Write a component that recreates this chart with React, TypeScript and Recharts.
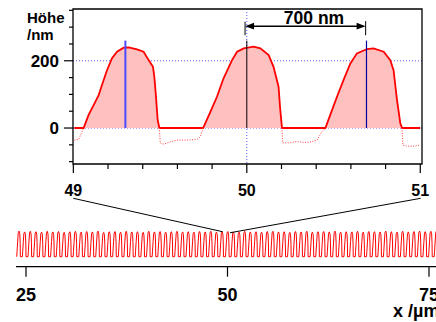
import React from 'react';
import {
  ComposedChart,
  Area,
  Line,
  XAxis,
  YAxis,
  CartesianGrid,
  ReferenceLine,
  ReferenceArea,
} from 'recharts';

// Höhenprofil im Ausschnitt 49–51 µm: [x in µm, Höhe in nm]
const profile: [number, number][] = [
  [49.005, 0], [49.059, 0], [49.088, 39], [49.117, 68], [49.146, 98], [49.165, 128],
  [49.194, 172], [49.223, 208], [49.252, 227], [49.29, 239], [49.319, 240], [49.367, 234],
  [49.405, 227], [49.434, 202], [49.459, 182], [49.467, 152], [49.478, 83], [49.486, 24],
  [49.496, 0], [49.748, 0], [49.79, 48], [49.828, 93], [49.866, 148], [49.915, 202],
  [49.944, 227], [49.982, 237], [50.039, 242], [50.078, 237], [50.126, 217], [50.154, 182],
  [50.183, 123], [50.193, 53], [50.203, 0], [50.453, 0], [50.481, 39], [50.52, 93],
  [50.558, 143], [50.597, 192], [50.635, 222], [50.693, 235], [50.731, 237], [50.789, 227],
  [50.827, 202], [50.846, 172], [50.866, 83], [50.885, 14], [50.895, 0], [51.0, 0],
];

// Rohdaten unter Null (gepunktet)
const valley0: [number, number][] = [[49.006, -36], [49.031, -34], [49.059, 0]];
const valley1: [number, number][] = [
  [49.496, 0], [49.501, -44], [49.52, -48], [49.559, -41], [49.598, -36],
  [49.655, -36], [49.713, -34], [49.732, -26], [49.748, 0],
];
const valley2: [number, number][] = [
  [50.203, 0], [50.206, -44], [50.251, -44], [50.289, -40], [50.347, -44],
  [50.405, -36], [50.433, -11], [50.453, 0],
];
const valley3: [number, number][] = [[50.895, 0], [50.9, -51], [50.923, -54], [50.961, -54], [51.0, -51]];

const topXTicks = [49, 49.2, 49.4, 49.6, 49.8, 50, 50.2, 50.4, 50.6, 50.8, 51];
const topYTicks = [-100, -50, 0, 50, 100, 150, 200, 250, 300, 350];
const topYLabels = [0, 200];

// Markierungen
const blueMark = 49.3;
const blackMark = 50;
const navyMark = 50.69;
const markTop = 260;
const arrowFrom = 49.99;
const arrowTo = 50.685;
const arrowY = 303;

// Übersicht 25–75 µm: Stegperiode 700 nm, Höhe je Steg
const RIDGE_PERIOD = 0.7;
const FIRST_RIDGE = 24.1;
const ridgeHeights = [
  246, 238, 244, 240, 236, 244, 238, 242, 234, 240,
  244, 236, 242, 238, 246, 234, 240, 242, 236, 244,
  238, 240, 234, 244, 238, 242, 236, 240, 244, 238,
  240, 236, 242, 238, 244, 236, 240, 242, 238, 236,
  244, 238, 240, 236, 242, 244, 238, 240, 234, 242,
  238, 244, 236, 240, 242, 238, 246, 236, 240, 238,
  244, 236, 242, 240, 238, 246, 240, 236, 244, 238,
  242, 246, 240, 244, 248,
];
const ridgeOffsets = [-0.25, -0.21, -0.13, -0.06, 0.04, 0.13, 0.18, 0.2];
const ridgeShape = [0, 0.2, 0.61, 0.94, 1, 0.9, 0.51, 0];
const bottomXTicks = [25, 50, 75];

// Verbindungslinien Ausschnitt -> Übersicht
const linkLeft = [{ x: 30.87, y: 561 }, { x: 49.4, y: 240 }];
const linkRight = [{ x: 73.97, y: 561 }, { x: 50.31, y: 230 }];

const profileRows = profile.map(([x, h]) => ({ x, h }));
const toRows = (v: [number, number][]) => v.map(([x, h]) => ({ x, r: h }));

const overviewRows: { x: number; h: number }[] = [];
ridgeHeights.forEach((height, i) => {
  const c = FIRST_RIDGE + i * RIDGE_PERIOD;
  ridgeOffsets.forEach((off, j) => {
    overviewRows.push({ x: +(c + off).toFixed(3), h: height * ridgeShape[j] });
  });
});

const FONT = '"Liberation Sans", Arial, sans-serif';

const TopXTick = (props: any) => {
  const { x, y, payload } = props;
  const major = Math.abs(payload.value - Math.round(payload.value)) < 1e-6;
  return (
    <g>
      <line x1={x} x2={x} y1={y} y2={y + (major ? 9 : 5)} stroke="#000" strokeWidth={1.2} />
      {major && (
        <text x={x} y={y + 32} textAnchor="middle" fontFamily={FONT} fontWeight="bold" fontSize={16} fill="#000">
          {payload.value}
        </text>
      )}
    </g>
  );
};

const TopYTick = (props: any) => {
  const { x, y, payload } = props;
  const major = topYLabels.includes(payload.value);
  return (
    <g>
      <line x1={x - (major ? 9 : 4)} x2={x} y1={y} y2={y} stroke="#000" strokeWidth={1.2} />
      {major && (
        <text x={x - 14} y={y + 6} textAnchor="end" fontFamily={FONT} fontWeight="bold" fontSize={17} fill="#000">
          {payload.value}
        </text>
      )}
    </g>
  );
};

const BottomXTick = (props: any) => {
  const { x, y, payload } = props;
  return (
    <g>
      <line x1={x} x2={x} y1={y} y2={y + 10} stroke="#000" strokeWidth={1.2} />
      <text x={x} y={y + 34} textAnchor="middle" fontFamily={FONT} fontWeight="bold" fontSize={18} fill="#000">
        {payload.value}
      </text>
    </g>
  );
};

const Arrow = (props: any) => {
  const { x1, y1, x2, y2 } = props;
  return (
    <g>
      <line x1={x1 + 5} y1={y1} x2={x2 - 5} y2={y2} stroke="#000" strokeWidth={1.5} />
      <polygon points={`${x1},${y1} ${x1 + 9},${y1 - 3.3} ${x1 + 9},${y1 + 3.3}`} fill="#000" />
      <polygon points={`${x2},${y2} ${x2 - 9},${y2 - 3.3} ${x2 - 9},${y2 + 3.3}`} fill="#000" />
    </g>
  );
};

export default function App() {
  const dotted = { stroke: '#ff4040', strokeWidth: 1, strokeDasharray: '1 1.5', dot: false, isAnimationActive: false, type: 'linear' as const };
  return (
    <div style={{ position: 'absolute', left: 0, top: 0, width: 436, height: 322, background: '#fff', overflow: 'hidden' }}>
      <div style={{ position: 'absolute', left: 0, top: 0 }}>
        <ComposedChart width={436} height={200} data={profileRows} margin={{ top: 9, right: 14, bottom: 6, left: 0 }}>
          <CartesianGrid horizontal vertical horizontalValues={[0, 200]} verticalValues={[50]} stroke="#5a5aff" strokeDasharray="1 2" />
          <XAxis
            type="number"
            dataKey="x"
            domain={[48.998, 51.01]}
            ticks={topXTicks}
            interval={0}
            tick={<TopXTick />}
            tickLine={false}
            axisLine={false}
            tickSize={0}
            tickMargin={0}
            height={30}
            allowDataOverflow
          />
          <YAxis
            type="number"
            domain={[-107, 354]}
            ticks={topYTicks}
            interval={0}
            tick={<TopYTick />}
            tickLine={false}
            axisLine={false}
            tickSize={0}
            tickMargin={0}
            width={73}
            allowDataOverflow
          />
          <Area
            dataKey="h"
            type="linear"
            baseValue={0}
            stroke="#ff0000"
            strokeWidth={1.8}
            fill="#ffc0c0"
            fillOpacity={1}
            isAnimationActive={false}
          />
          <Line data={toRows(valley0)} dataKey="r" {...dotted} />
          <Line data={toRows(valley1)} dataKey="r" {...dotted} />
          <Line data={toRows(valley2)} dataKey="r" {...dotted} />
          <Line data={toRows(valley3)} dataKey="r" {...dotted} />
          <ReferenceLine segment={[{ x: blueMark, y: 0 }, { x: blueMark, y: markTop }]} stroke="#4b4bff" strokeWidth={2} />
          <ReferenceLine segment={[{ x: blackMark, y: 0 }, { x: blackMark, y: markTop }]} stroke="#000" strokeWidth={1} />
          <ReferenceLine segment={[{ x: navyMark, y: 0 }, { x: navyMark, y: markTop }]} stroke="#0000a0" strokeWidth={1.2} />
          <ReferenceLine segment={[{ x: arrowFrom, y: 276 }, { x: arrowFrom, y: 316 }]} stroke="#000" strokeWidth={1} />
          <ReferenceLine segment={[{ x: arrowTo, y: 276 }, { x: arrowTo, y: 318 }]} stroke="#000" strokeWidth={1} />
          <ReferenceLine segment={[{ x: arrowFrom, y: arrowY }, { x: arrowTo, y: arrowY }]} shape={<Arrow />} />
          <ReferenceArea x1={48.998} x2={51.01} y1={-107} y2={354} fill="#fff" fillOpacity={0} stroke="#000" strokeWidth={1.3} />
        </ComposedChart>
      </div>
      <div style={{ position: 'absolute', left: 0, top: 190 }}>
        <ComposedChart width={436} height={132} data={overviewRows} margin={{ top: 8, right: 0, bottom: 0, left: 16 }}>
          <XAxis
            type="number"
            dataKey="x"
            domain={[23.76, 75.87]}
            ticks={bottomXTicks}
            interval={0}
            tick={<BottomXTick />}
            tickLine={false}
            axisLine={{ stroke: '#000', strokeWidth: 1.3 }}
            tickSize={0}
            tickMargin={0}
            height={55.3}
            allowDataOverflow
          />
          <YAxis hide type="number" domain={[-96, 564]} allowDataOverflow />
          <Line dataKey="h" type="linear" stroke="#ff0000" strokeWidth={1} dot={false} isAnimationActive={false} />
          <ReferenceLine segment={linkLeft} stroke="#000" strokeWidth={1} ifOverflow="visible" />
          <ReferenceLine segment={linkRight} stroke="#000" strokeWidth={1} ifOverflow="visible" />
        </ComposedChart>
      </div>
      <svg width={436} height={322} style={{ position: 'absolute', left: 0, top: 0, pointerEvents: 'none' }}>
        <text x={27} y={22.7} fontFamily={FONT} fontWeight="bold" fontSize={15} fill="#000">Höhe</text>
        <text x={27} y={40} fontFamily={FONT} fontWeight="bold" fontSize={15} fill="#000">/nm</text>
        <text x={314} y={24} textAnchor="middle" fontFamily={FONT} fontWeight="bold" fontSize={17.5} fill="#000">700 nm</text>
        <text x={393} y={317} fontFamily={FONT} fontWeight="bold" fontSize={18} fill="#000">x /µm</text>
      </svg>
    </div>
  );
}
